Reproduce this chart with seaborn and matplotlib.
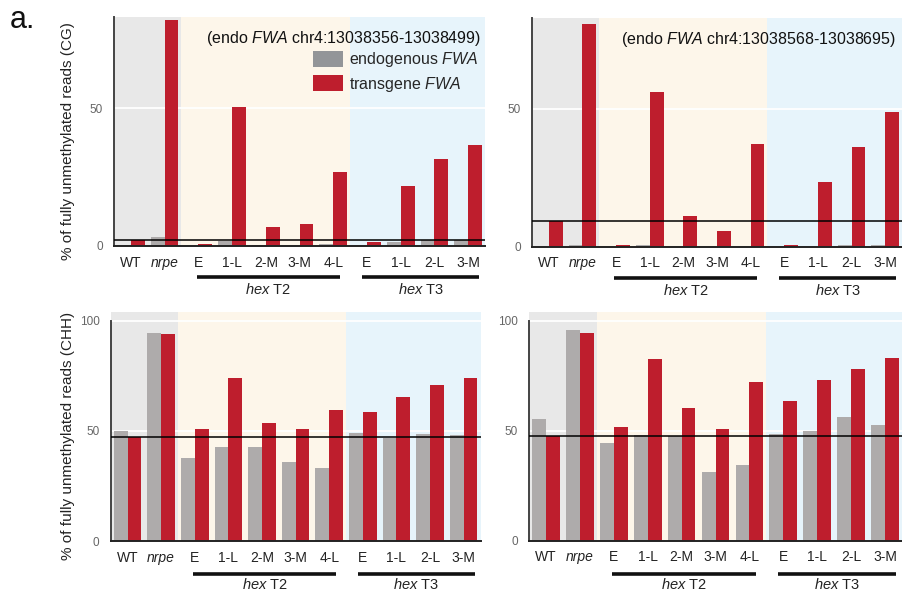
import matplotlib
matplotlib.use("Agg")
import matplotlib.pyplot as plt
from matplotlib.patches import Patch
import seaborn as sns
import pandas as pd

# ---- data -------------------------------------------------------------
cat_keys = ["WT", "nrpe", "T2_E", "T2_1L", "T2_2M", "T2_3M", "T2_4L",
            "T3_E", "T3_1L", "T3_2L", "T3_3M"]
tick_labels = ["WT", "nrpe", "E", "1-L", "2-M", "3-M", "4-L",
               "E", "1-L", "2-L", "3-M"]

cg1_endo = [0.5, 3.4, 0.0, 1.9, 0.5, 0.0, 0.8, 0.0, 1.6, 2.1, 2.1]
cg1_trans = [2.2, 82.0, 0.6, 50.2, 7.0, 7.8, 26.7, 1.4, 21.7, 31.5, 36.5]
cg2_endo = [0.0, 0.6, 0.0, 0.5, 0.0, 0.0, 0.0, 0.0, 0.0, 0.5, 0.5]
cg2_trans = [9.3, 81.0, 0.6, 56.1, 11.2, 5.6, 37.2, 0.6, 23.6, 36.1, 48.9]
chh1_endo = [50.0, 94.4, 37.9, 42.7, 42.7, 35.9, 33.0, 49.0, 47.0, 48.6, 48.2]
chh1_trans = [47.1, 94.0, 51.0, 74.1, 53.8, 51.0, 59.5, 58.5, 65.6, 70.8, 74.1]
chh2_endo = [55.2, 95.6, 44.3, 47.9, 47.5, 31.1, 34.4, 48.5, 49.9, 56.1, 52.7]
chh2_trans = [47.4, 94.3, 51.8, 82.4, 60.3, 50.9, 72.2, 63.6, 73.1, 78.2, 83.0]

region_titles = ["(endo $\\it{FWA}$ chr4:13038356-13038499)",
                 "(endo $\\it{FWA}$ chr4:13038568-13038695)"]
series_names = ["endogenous", "transgene"]

# ---- style ------------------------------------------------------------
sns.set_style("white")
plt.rcParams["font.family"] = ["Liberation Sans", "DejaVu Sans"]
plt.rcParams["mathtext.fontset"] = "custom"
plt.rcParams["mathtext.rm"] = "Liberation Sans"
plt.rcParams["mathtext.it"] = "Liberation Sans:italic"

RED = "#be1e2d"
GRAY = "#aeabab"
LEG_GRAY = "#939598"
BG_CTRL = "#e8e8e8"
BG_T2 = "#fdf6ea"
BG_T3 = "#e7f4fb"

W, H = 902, 598
fig = plt.figure(figsize=(W / 100, H / 100), dpi=100)


def px_axes(left, right, top, bottom):
    return fig.add_axes([left / W, 1 - bottom / H, (right - left) / W, (bottom - top) / H])


def draw_panel(ax, endo, trans, ymax, yticks, line_y, txt_y, spine_top=None):
    df = pd.DataFrame({
        "cat": cat_keys * 2,
        "val": list(endo) + list(trans),
        "series": [series_names[0]] * len(cat_keys) + [series_names[1]] * len(cat_keys),
    })
    ax.axvspan(-0.5, 1.5, color=BG_CTRL, zorder=0, lw=0)
    ax.axvspan(1.5, 6.5, color=BG_T2, zorder=0, lw=0)
    ax.axvspan(6.5, 10.5, color=BG_T3, zorder=0, lw=0)
    for t in yticks[1:]:
        ax.axhline(t, color="white", lw=1.3, zorder=0.5)
    sns.barplot(data=df, x="cat", y="val", hue="series", order=cat_keys,
                hue_order=series_names, palette=[GRAY, RED], width=0.82,
                saturation=1, linewidth=0, legend=False, ax=ax, zorder=2)
    # control level (WT transgene)
    ax.axhline(trans[0], color="black", lw=1.1, zorder=3)
    ax.set_xlim(-0.5, 10.5)
    ax.set_ylim(0, ymax)
    ax.set_xlabel("")
    ax.set_ylabel("")
    ax.set_yticks(yticks)
    ax.set_yticklabels([str(t) for t in yticks], color="#666666", fontsize=8.5)
    ax.set_xticks(range(len(tick_labels)))
    ax.set_xticklabels(tick_labels, fontsize=10, color="#222222")
    ax.get_xticklabels()[1].set_fontstyle("italic")
    ax.tick_params(axis="y", length=0, pad=8)
    ax.tick_params(axis="x", length=0, pad=7)
    for s in ("top", "right"):
        ax.spines[s].set_visible(False)
    ax.spines["left"].set_color("#444444")
    ax.spines["left"].set_linewidth(1.4)
    ax.spines["bottom"].set_color("#222222")
    ax.spines["bottom"].set_linewidth(1.4)
    if spine_top is not None:
        ax.spines["left"].set_bounds(0, spine_top)
    tr = ax.get_xaxis_transform()
    for (x0, x1, name) in [(1.95, 6.2, "T2"), (6.85, 10.33, "T3")]:
        ax.plot([x0, x1], [line_y, line_y], color="#111111", lw=2.6,
                transform=tr, clip_on=False, solid_capstyle="butt")
        ax.text((x0 + x1) / 2, txt_y, "$\\it{hex}$ " + name, transform=tr,
                ha="center", va="center", fontsize=10.5, color="#222222")


ax_tl = px_axes(114, 485, 17, 246)
ax_tr = px_axes(532, 902, 18, 246.7)
ax_bl = px_axes(110.7, 480.5, 312, 541)
ax_br = px_axes(529, 902, 311.7, 540.7)

draw_panel(ax_tl, cg1_endo, cg1_trans, 83, [0, 50], -0.135, -0.19)
draw_panel(ax_tr, cg2_endo, cg2_trans, 83, [0, 50], -0.135, -0.19)
draw_panel(ax_bl, chh1_endo, chh1_trans, 104, [0, 50, 100], -0.144, -0.192, spine_top=100)
draw_panel(ax_br, chh2_endo, chh2_trans, 104, [0, 50, 100], -0.144, -0.192, spine_top=100)

# region annotations
ax_tl.text(0.99, 0.905, region_titles[0], transform=ax_tl.transAxes,
           ha="right", va="center", fontsize=11.5, color="#111111")
ax_tr.text(0.985, 0.905, region_titles[1], transform=ax_tr.transAxes,
           ha="right", va="center", fontsize=11.5, color="#111111")

handles = [Patch(facecolor=LEG_GRAY, edgecolor="none"),
           Patch(facecolor=RED, edgecolor="none")]
ax_tl.legend(handles, ["endogenous $\\it{FWA}$", "transgene $\\it{FWA}$"],
             loc="upper left", bbox_to_anchor=((313 - 114) / 371, (246 - 50) / 229),
             frameon=False, fontsize=11.5, handlelength=1.9, handleheight=1.15,
             handletextpad=0.35, labelspacing=0.35, borderaxespad=0, borderpad=0)

# y-axis titles
fig.text(68 / W, 1 - 141 / H, "% of fully unmethylated reads (CG)", rotation=90,
         ha="center", va="center", fontsize=11, color="#222222")
fig.text(68 / W, 1 - 436 / H, "% of fully unmethylated reads (CHH)", rotation=90,
         ha="center", va="center", fontsize=11, color="#222222")

fig.text(10 / W, 1 - 28 / H, "a.", fontsize=22, ha="left", va="baseline", color="#111111")

fig.savefig("out.png", dpi=100)
